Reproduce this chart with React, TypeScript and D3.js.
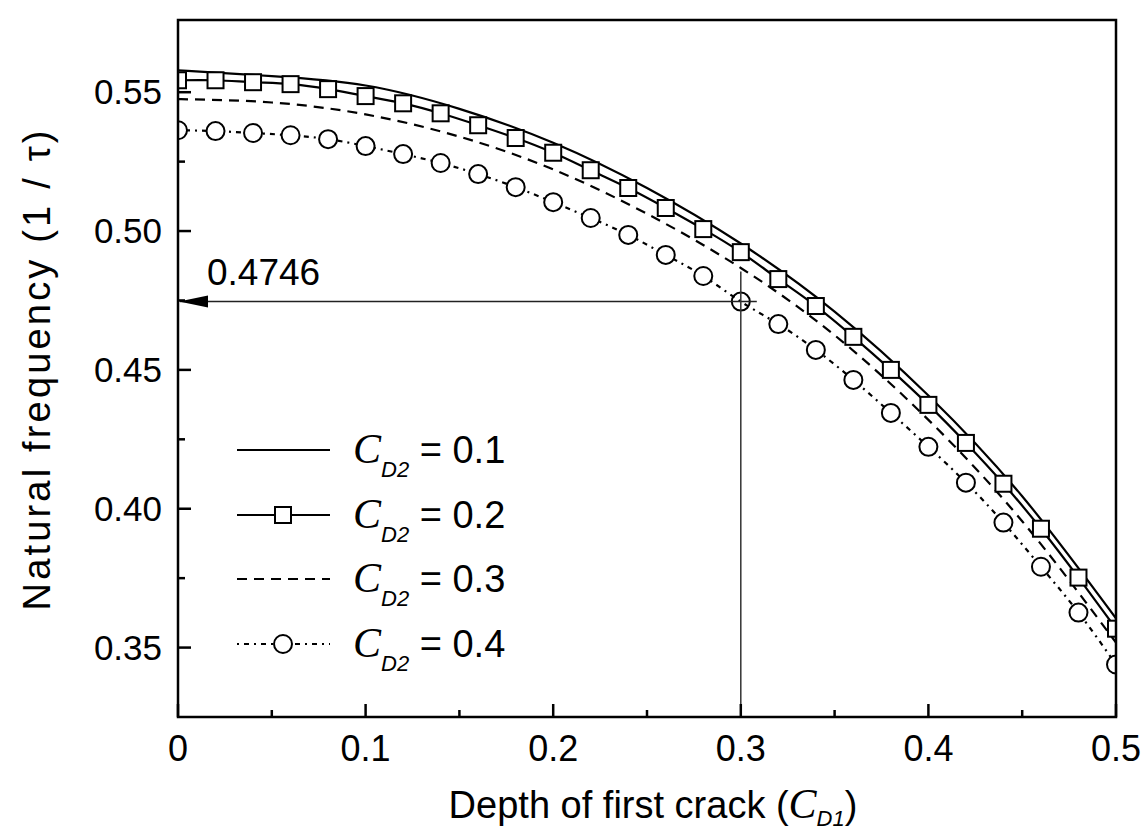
import * as d3 from "d3";
import { useEffect, useRef } from "react";

// depth of first crack where the symbols sit
const markerDepth = [
  0, 0.02, 0.04, 0.06, 0.08, 0.1, 0.12, 0.14, 0.16, 0.18, 0.2, 0.22, 0.24,
  0.26, 0.28, 0.3, 0.32, 0.34, 0.36, 0.38, 0.4, 0.42, 0.44, 0.46, 0.48, 0.5,
];
// C_D2 = 0.2 (squares)
const freqSquare = [
  0.5543, 0.5543, 0.5536, 0.5529, 0.5511, 0.5486, 0.546, 0.5424, 0.5381,
  0.5335, 0.5282, 0.5219, 0.5155, 0.5083, 0.5007, 0.4924, 0.4827, 0.473,
  0.4619, 0.45, 0.4374, 0.4237, 0.409, 0.3928, 0.3752, 0.3568,
];
// C_D2 = 0.4 (circles)
const freqCircle = [
  0.5363, 0.536, 0.5353, 0.5345, 0.5331, 0.5306, 0.5277, 0.5245, 0.5205,
  0.5158, 0.5104, 0.5047, 0.4986, 0.4914, 0.4838, 0.4746, 0.4665, 0.4572,
  0.4464, 0.4345, 0.4223, 0.4094, 0.395, 0.3791, 0.3626, 0.3439,
];
// plain curves
const lineDepth = [0, 0.05, 0.1, 0.15, 0.2, 0.25, 0.3, 0.35, 0.4, 0.45, 0.5];
const freqSolid = [
  0.5579, 0.5558, 0.5524, 0.544, 0.5318, 0.5155, 0.4955, 0.471, 0.4408, 0.4045,
  0.3605,
];
const freqDashed = [
  0.5475, 0.5463, 0.542, 0.534, 0.5222, 0.5062, 0.4867, 0.4625, 0.432, 0.3955,
  0.3518,
];

const xTicks = [0, 0.1, 0.2, 0.3, 0.4, 0.5];
const xTickLabels = ["0", "0.1", "0.2", "0.3", "0.4", "0.5"];
const xMinor = [0.05, 0.15, 0.25, 0.35, 0.45];
const yTicks = [0.35, 0.4, 0.45, 0.5, 0.55];
const yTickLabels = ["0.35", "0.40", "0.45", "0.50", "0.55"];
const yMinor = [0.375, 0.425, 0.475, 0.525];
const legendValues = ["0.1", "0.2", "0.3", "0.4"];
const markedDepth = 0.3;
const markedFreq = 0.4746;

const W = 1144;
const H = 832;
const left = 178,
  right = 28,
  top = 20,
  bottom = 115;
const SANS = "'Liberation Sans', Arial, sans-serif";
const SERIF = "'Liberation Serif', 'Times New Roman', serif";

export default function App() {
  const svgRef = useRef<SVGSVGElement>(null);

  useEffect(() => {
    const svg = d3.select(svgRef.current);
    svg.selectAll("*").remove();

    const x = d3.scaleLinear().domain([0, 0.5]).range([left, W - right]);
    const y = d3.scaleLinear().domain([0.325, 0.576]).range([H - bottom, top]);
    const x0 = x(0),
      x1 = x(0.5),
      yb = y(0.325),
      yt = y(0.576);

    svg
      .append("defs")
      .append("clipPath")
      .attr("id", "plot")
      .append("rect")
      .attr("x", x0)
      .attr("y", yt)
      .attr("width", x1 - x0)
      .attr("height", yb - yt);

    const plot = svg.append("g").attr("clip-path", "url(#plot)");

    const line = d3
      .line<[number, number]>()
      .x((d) => x(d[0]))
      .y((d) => y(d[1]))
      .curve(d3.curveNatural);

    // annotation: arrow to the y axis and drop line to the x axis
    const ya = y(markedFreq);
    svg
      .append("line")
      .attr("x1", x0 + 2)
      .attr("x2", x(markedDepth) + 16)
      .attr("y1", ya)
      .attr("y2", ya)
      .attr("stroke", "#222")
      .attr("stroke-width", 1.5);
    svg
      .append("line")
      .attr("x1", x(markedDepth))
      .attr("x2", x(markedDepth))
      .attr("y1", ya - 30)
      .attr("y2", yb)
      .attr("stroke", "#333")
      .attr("stroke-width", 1.5);
    svg
      .append("path")
      .attr("d", `M${x0 + 1},${ya} L${x0 + 30},${ya - 6} L${x0 + 30},${ya + 6} Z`)
      .attr("fill", "#000");
    svg
      .append("text")
      .attr("x", x0 + 29)
      .attr("y", ya - 17)
      .attr("font-family", SANS)
      .attr("font-size", 37)
      .text(String(markedFreq));

    // curves
    plot
      .append("path")
      .attr("d", line(lineDepth.map((d, i) => [d, freqSolid[i]]))!)
      .attr("fill", "none")
      .attr("stroke", "#000")
      .attr("stroke-width", 2.2);
    plot
      .append("path")
      .attr("d", line(lineDepth.map((d, i) => [d, freqDashed[i]]))!)
      .attr("fill", "none")
      .attr("stroke", "#000")
      .attr("stroke-width", 2.2)
      .attr("stroke-dasharray", "10,7");
    plot
      .append("path")
      .attr("d", line(markerDepth.map((d, i) => [d, freqSquare[i]]))!)
      .attr("fill", "none")
      .attr("stroke", "#000")
      .attr("stroke-width", 2.2);
    plot
      .append("path")
      .attr("d", line(markerDepth.map((d, i) => [d, freqCircle[i]]))!)
      .attr("fill", "none")
      .attr("stroke", "#000")
      .attr("stroke-width", 2.2)
      .attr("stroke-dasharray", "2,5,5,5");

    plot
      .selectAll("rect.sq")
      .data(markerDepth)
      .join("rect")
      .attr("class", "sq")
      .attr("x", (d) => x(d) - 8)
      .attr("y", (_, i) => y(freqSquare[i]) - 8)
      .attr("width", 16)
      .attr("height", 16)
      .attr("fill", "#fff")
      .attr("stroke", "#000")
      .attr("stroke-width", 2);
    plot
      .selectAll("circle.ci")
      .data(markerDepth)
      .join("circle")
      .attr("class", "ci")
      .attr("cx", (d) => x(d))
      .attr("cy", (_, i) => y(freqCircle[i]))
      .attr("r", 9)
      .attr("fill", (d) => (d === markedDepth ? "none" : "#fff"))
      .attr("stroke", "#000")
      .attr("stroke-width", 2);

    // frame
    svg
      .append("rect")
      .attr("x", x0)
      .attr("y", yt)
      .attr("width", x1 - x0)
      .attr("height", yb - yt)
      .attr("fill", "none")
      .attr("stroke", "#000")
      .attr("stroke-width", 2.5);

    // ticks point inward
    const ax = svg.append("g").attr("stroke", "#000").attr("stroke-width", 2.5);
    xTicks.forEach((t) =>
      ax.append("line").attr("x1", x(t)).attr("x2", x(t)).attr("y1", yb).attr("y2", yb - 13)
    );
    xMinor.forEach((t) =>
      ax.append("line").attr("x1", x(t)).attr("x2", x(t)).attr("y1", yb).attr("y2", yb - 7)
    );
    yTicks.forEach((t) =>
      ax.append("line").attr("x1", x0).attr("x2", x0 + 13).attr("y1", y(t)).attr("y2", y(t))
    );
    yMinor.forEach((t) =>
      ax.append("line").attr("x1", x0).attr("x2", x0 + 7).attr("y1", y(t)).attr("y2", y(t))
    );

    svg
      .append("g")
      .selectAll("text")
      .data(xTicks)
      .join("text")
      .attr("x", (d) => x(d))
      .attr("y", yb + 44)
      .attr("text-anchor", "middle")
      .attr("font-family", SANS)
      .attr("font-size", 36)
      .text((_, i) => xTickLabels[i]);
    svg
      .append("g")
      .selectAll("text")
      .data(yTicks)
      .join("text")
      .attr("x", x0 - 16)
      .attr("y", (d) => y(d) + 12)
      .attr("text-anchor", "end")
      .attr("font-family", SANS)
      .attr("font-size", 35)
      .text((_, i) => yTickLabels[i]);

    // axis titles
    const xt = svg
      .append("text")
      .attr("x", (x0 + x1) / 2 + 6)
      .attr("y", 818)
      .attr("text-anchor", "middle")
      .attr("font-family", SANS)
      .attr("font-size", 38);
    xt.append("tspan").text("Depth of first crack (");
    xt.append("tspan").attr("font-family", SERIF).attr("font-style", "italic").attr("font-size", 42).text("C");
    xt.append("tspan").attr("font-style", "italic").attr("font-size", 22).attr("dy", 8).text("D1");
    xt.append("tspan").attr("dy", -8).text(")");

    svg
      .append("text")
      .attr("transform", `translate(50, ${(yt + yb) / 2 + 2}) rotate(-90)`)
      .attr("text-anchor", "middle")
      .attr("font-family", SANS)
      .attr("font-size", 38)
      .attr("textLength", 480)
      .attr("lengthAdjust", "spacing")
      .text("Natural frequency (1 / τ)");

    // legend
    const rows = [450, 515, 579, 644];
    const lg = svg.append("g");
    legendValues.forEach((v, i) => {
      const ry = rows[i];
      const l = lg
        .append("line")
        .attr("x1", 237)
        .attr("x2", 330)
        .attr("y1", ry)
        .attr("y2", ry)
        .attr("stroke", "#000")
        .attr("stroke-width", 2.2);
      if (i === 2) l.attr("stroke-dasharray", "10,7");
      if (i === 3) l.attr("stroke-dasharray", "2,5,5,5");
      if (i === 1)
        lg.append("rect")
          .attr("x", 275)
          .attr("y", ry - 8)
          .attr("width", 16)
          .attr("height", 16)
          .attr("fill", "#fff")
          .attr("stroke", "#000")
          .attr("stroke-width", 2);
      if (i === 3)
        lg.append("circle")
          .attr("cx", 283)
          .attr("cy", ry)
          .attr("r", 9)
          .attr("fill", "#fff")
          .attr("stroke", "#000")
          .attr("stroke-width", 2);
      const t = lg
        .append("text")
        .attr("x", 353)
        .attr("y", ry + 13)
        .attr("font-family", SANS)
        .attr("font-size", 38);
      t.append("tspan").attr("font-family", SERIF).attr("font-style", "italic").attr("font-size", 42).text("C");
      t.append("tspan").attr("font-style", "italic").attr("font-size", 22).attr("dy", 14).text("D2");
      t.append("tspan").attr("dy", -14).text(` = ${v}`);
    });
  }, []);

  return (
    <svg
      ref={svgRef}
      width={W}
      height={H}
      style={{ position: "absolute", left: 0, top: 0, background: "#fff" }}
    />
  );
}
